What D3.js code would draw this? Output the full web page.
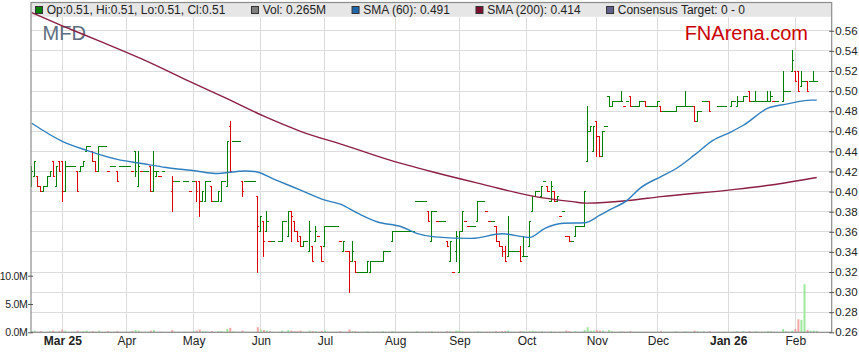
<!DOCTYPE html>
<html>
<head>
<meta charset="utf-8">
<script src="https://cdn.jsdelivr.net/npm/d3@7"></script>
<style>
  body { margin: 0; background: #fff; }
  text { font-family: "Liberation Sans", Arial, sans-serif; }
</style>
</head>
<body>
<div id="chart"></div>
<script>
// one slot per weekday, starting here; null = exchange holiday
const startDate = "2025-02-17";

// [open, high, low, close] in $
const ohlc = [
  // 0-9
  [.405,.425,.405,.42],[.415,.43,.415,.43],[.415,.415,.405,.405],[.405,.405,.40,.40],[.40,.405,.40,.405],
  [.405,.415,.405,.415],[.415,.42,.415,.42],[.43,.43,.415,.415],[.405,.425,.405,.425],[.43,.43,.42,.42],
  // 10-19
  [.43,.43,.39,.40],[.40,.43,.40,.425],[.425,.425,.425,.425],[.425,.425,.425,.425],[.425,.425,.425,.425],
  [.42,.42,.40,.40],[.42,.425,.42,.425],[.425,.43,.425,.43],[.44,.445,.44,.445],[.445,.445,.445,.445],
  // 20-29
  [.44,.44,.43,.43],[.43,.43,.42,.42],[.42,.445,.42,.445],[.445,.445,.445,.445],[.445,.445,.445,.445],
  [.42,.42,.42,.42],[.425,.425,.425,.425],[.425,.425,.425,.425],[.42,.42,.41,.41],[.425,.425,.425,.425],
  // 30-39
  [.425,.425,.425,.425],[.425,.425,.425,.425],[.425,.425,.425,.425],[.42,.42,.42,.42],[.44,.44,.415,.42],
  [.405,.44,.405,.425],[.42,.42,.42,.42],[.42,.42,.42,.42],[.42,.42,.42,.42],[.425,.425,.40,.40],
  // 40-49
  [.40,.44,.40,.42],[.415,.42,.415,.42],[.415,.415,.415,.415],[.42,.42,.42,.42],null,
  null,[.40,.415,.38,.41],[.41,.41,.41,.41],[.41,.41,.41,.41],null,
  // 50-59
  [.41,.41,.41,.41],[.41,.41,.41,.41],[.40,.40,.40,.40],[.41,.41,.41,.41],[.41,.41,.39,.40],
  [.41,.41,.375,.39],[.39,.40,.39,.40],[.39,.41,.39,.41],[.41,.41,.41,.41],[.405,.405,.39,.39],
  // 60-69
  [.39,.39,.39,.39],[.39,.40,.39,.40],[.39,.41,.39,.41],[.41,.41,.41,.41],[.405,.45,.405,.45],
  [.465,.47,.42,.42],[.45,.45,.45,.45],[.45,.45,.45,.45],[.45,.45,.45,.45],[.41,.41,.395,.40],
  // 70-79
  [.41,.41,.41,.41],[.41,.41,.41,.41],[.41,.41,.41,.41],[.41,.41,.41,.41],[.395,.395,.32,.365],
  [.36,.375,.36,.375],[.37,.37,.335,.35],[.36,.38,.36,.37],[.35,.35,.35,.35],[.35,.35,.35,.35],
  // 80-89
  null,[.35,.35,.35,.35],[.35,.37,.35,.37],[.37,.37,.37,.37],[.355,.38,.355,.38],
  [.38,.38,.35,.375],[.37,.37,.36,.36],[.36,.36,.35,.35],[.355,.355,.345,.345],[.345,.35,.345,.35],
  // 90-99
  [.35,.35,.35,.35],[.34,.37,.34,.36],[.345,.345,.33,.33],[.35,.365,.35,.36],[.355,.355,.355,.355],
  [.345,.345,.33,.33],[.345,.365,.345,.365],[.365,.365,.365,.365],[.365,.365,.365,.365],[.365,.365,.365,.365],
  // 100-109
  [.365,.365,.365,.365],[.35,.35,.35,.35],[.34,.35,.34,.35],[.34,.34,.34,.34],[.34,.34,.30,.33],
  [.33,.35,.33,.34],[.33,.33,.32,.32],[.32,.32,.32,.32],[.32,.32,.32,.32],[.32,.32,.32,.32],
  // 110-119
  [.32,.33,.32,.33],[.32,.33,.32,.33],[.33,.33,.33,.33],[.33,.33,.33,.33],[.33,.33,.33,.33],
  [.33,.34,.33,.34],[.34,.34,.34,.34],[.34,.34,.34,.34],[.35,.36,.35,.36],[.36,.36,.36,.36],
  // 120-129
  [.36,.36,.36,.36],[.36,.36,.36,.36],[.36,.36,.36,.36],[.36,.36,.36,.36],[.36,.36,.36,.36],
  [.36,.36,.36,.36],[.39,.39,.39,.39],[.39,.39,.39,.39],[.39,.39,.39,.39],[.39,.39,.39,.39],
  // 130-139
  [.38,.38,.37,.37],[.35,.38,.35,.38],[.38,.38,.38,.38],[.37,.37,.37,.37],[.37,.37,.37,.37],
  [.37,.37,.37,.37],[.35,.35,.345,.345],[.33,.35,.33,.35],[.32,.32,.32,.32],[.34,.36,.33,.355],
  // 140-149
  [.32,.36,.32,.36],[.36,.38,.36,.38],[.37,.37,.37,.37],[.365,.365,.365,.365],[.365,.365,.365,.365],
  [.365,.365,.365,.365],[.37,.39,.37,.39],[.39,.39,.39,.39],[.39,.39,.39,.39],[.38,.38,.38,.38],
  // 150-159
  [.37,.37,.37,.37],[.37,.37,.37,.37],[.365,.365,.35,.35],[.35,.35,.345,.345],[.345,.345,.335,.34],
  [.34,.345,.33,.33],[.335,.375,.335,.34],[.34,.34,.34,.34],[.34,.34,.34,.34],[.34,.34,.34,.34],
  // 160-169
  [.34,.345,.33,.33],[.335,.355,.335,.335],[.335,.335,.335,.335],[.345,.37,.345,.37],[.38,.395,.38,.395],
  [.395,.40,.395,.40],[.40,.40,.40,.40],[.395,.405,.395,.405],[.41,.41,.41,.41],[.405,.405,.40,.40],
  // 170-179
  [.39,.41,.39,.405],[.40,.40,.39,.39],[.39,.395,.39,.395],[.375,.375,.375,.375],[.38,.38,.38,.38],
  [.355,.355,.355,.355],[.355,.355,.35,.35],[.35,.35,.35,.35],[.355,.365,.355,.365],[.365,.365,.365,.365],
  // 180-189
  [.365,.365,.365,.365],[.365,.40,.365,.40],[.43,.485,.43,.46],[.46,.465,.46,.465],[.44,.465,.44,.465],
  [.47,.47,.435,.455],[.455,.455,.435,.435],[.435,.46,.435,.46],[.465,.465,.465,.465],[.495,.495,.485,.485],
  // 190-199
  [.485,.49,.485,.49],[.49,.49,.49,.49],[.49,.49,.49,.49],[.49,.50,.49,.49],[.485,.485,.485,.485],
  [.49,.49,.49,.49],[.495,.495,.485,.485],[.485,.485,.485,.485],[.485,.485,.485,.485],[.485,.49,.485,.49],
  // 200-209
  [.49,.49,.49,.49],[.49,.49,.485,.485],[.485,.485,.485,.485],[.485,.485,.485,.485],[.485,.485,.485,.485],
  [.485,.49,.485,.49],[.485,.485,.48,.48],[.48,.48,.48,.48],[.48,.48,.48,.48],[.48,.48,.48,.48],
  // 210-219
  [.48,.48,.48,.48],[.48,.485,.48,.485],[.485,.485,.485,.485],[.485,.485,.485,.485],[.485,.50,.485,.485],
  [.485,.485,.485,.485],[.485,.485,.485,.485],[.485,.485,.47,.47],[.47,.48,.47,.48],[.48,.48,.48,.48],
  // 220-229
  [.49,.49,.49,.49],[.49,.49,.49,.49],[.49,.49,.48,.48],null,null,
  [.485,.485,.485,.485],[.485,.485,.485,.485],[.485,.485,.485,.485],null,[.485,.49,.485,.49],
  // 230-239
  [.49,.49,.49,.49],[.485,.495,.485,.49],[.49,.49,.49,.49],[.49,.495,.49,.495],[.495,.495,.495,.495],
  [.50,.50,.49,.49],[.49,.49,.49,.49],[.49,.50,.49,.49],[.49,.49,.49,.49],[.49,.49,.49,.49],
  // 240-249
  [.49,.49,.49,.49],[.49,.50,.49,.49],[.49,.50,.49,.495],[.49,.49,.49,.49],[.49,.49,.49,.49],
  null,[.49,.52,.49,.50],[.50,.50,.50,.50],[.50,.50,.50,.50],[.52,.54,.52,.53],
  // 250-257
  [.52,.52,.51,.51],[.52,.52,.50,.50],[.505,.52,.505,.51],[.51,.51,.51,.51],[.51,.51,.50,.50],
  [.51,.51,.51,.51],[.51,.52,.51,.51],[.51,.51,.51,.51]
];

// volume, millions of shares
const volumes = [
  .2,.3,.1,.2,.1,.1,.2,.3,.1,.2,
  .5,.3,.1,.1,.1,.3,.1,.2,.3,.1,
  .2,.1,.3,.1,.1,.2,.1,.1,.2,.1,
  .1,.1,.1,.2,.4,.3,.1,.1,.1,.3,
  .4,.1,.1,.1,null,null,.4,.1,.1,null,
  .1,.1,.1,.2,.3,.5,.2,.2,.1,.2,
  .1,.2,.2,.1,.6,.8,.2,.1,.1,.3,
  .1,.1,.1,.1,.9,.5,.4,.3,.2,.1,
  null,.1,.3,.1,.4,.3,.2,.2,.3,.1,
  .1,.3,.2,.2,.1,.2,.3,.1,.1,.1,
  .1,.2,.1,.1,.5,.2,.2,.1,.1,.1,
  .2,.1,.1,.1,.1,.2,.1,.1,.2,.1,
  .1,.1,.1,.1,.1,.1,.2,.1,.1,.1,
  .1,.2,.1,.1,.1,.1,.2,.2,.1,.3,
  .3,.2,.1,.1,.1,.1,.2,.1,.1,.1,
  .1,.1,.2,.1,.2,.2,.3,.1,.1,.1,
  .2,.2,.1,.2,.3,.2,.1,.2,.1,.1,
  .2,.1,.1,.1,.1,.3,.2,.1,.2,.1,
  .1,.4,.9,.3,.3,.4,.3,.3,.1,.4,
  .2,.1,.1,.2,.1,.1,.2,.1,.1,.1,
  .1,.1,.1,.1,.1,.1,.2,.1,.1,.1,
  .1,.2,.1,.1,.2,.1,.1,.3,.2,.1,
  .2,.1,.2,null,null,.1,.1,.1,null,.1,
  .1,.2,.1,.2,.1,.2,.1,.2,.1,.1,
  .1,.2,.2,.1,.1,null,.6,.2,.1,.3,
  .6,2.3,2.2,8.5,.4,.3,.3,.265
];

// moving averages: [slot, value]
const sma60 = [
  [0,.468],[10,.450],[18,.441],[28,.432],[36,.428],[44,.424],[54,.4205],[60,.418],[70,.4205],[73,.420],
  [80,.4115],[88,.4015],[96,.3915],[101,.3875],[107,.378],[113,.370],[121,.365],[126,.3585],[132,.355],
  [144,.3535],[154,.358],[163,.3545],[168,.3635],[174,.3685],[181,.369],[186,.3765],[189,.3815],[195,.3915],
  [199,.403],[206,.415],[211,.423],[217,.4365],[223,.451],[229,.4595],[233,.466],[241,.483],[247,.487],
  [255,.491],[257,.491]
];
const sma200 = [
  [0,.578],[10,.565],[22,.550],[36,.532],[50,.512],[65,.491],[76,.475],[88,.460],[103,.4455],[117,.4315],
  [132,.419],[148,.407],[164,.3955],[177,.390],[182,.3885],[195,.391],[206,.395],[228,.4015],[242,.4065],
  [257,.414]
];

const monthTicks = ["2025-03-03","2025-04-01","2025-05-01","2025-06-02","2025-07-01","2025-08-01",
  "2025-09-01","2025-10-01","2025-11-03","2025-12-01","2026-01-01","2026-02-02"];
const monthLabels = ["Mar 25","Apr","May","Jun","Jul","Aug","Sep","Oct","Nov","Dec","Jan 26","Feb"];
const boldLabels = ["Mar 25","Jan 26"];
const priceTicks = [0.26,0.28,0.30,0.32,0.34,0.36,0.38,0.40,0.42,0.44,0.46,0.48,0.50,0.52,0.54,0.56];
const volTicks = [0, 5, 10];

const ticker = "MFD";
const consensus = "0 - 0";

// colours
const upColor = "#008000", downColor = "#dd0000";
const upVol = "#9ee89e", downVol = "#f2a5a5";
const sma60Color = "#2f7fc0", sma200Color = "#8c1f42";

// ---------------------------------------------------------------
const W = 859, H = 363;
const plot = { left: 31, right: 831.7, top: 2.5, bottom: 332.3 };

// weekday slots -> date strings
const fmt = d3.utcFormat("%Y-%m-%d");
const slots = [];
for (let d = new Date(startDate + "T00:00:00Z"); slots.length < 270; d.setUTCDate(d.getUTCDate() + 1)) {
  const wd = d.getUTCDay();
  if (wd > 0 && wd < 6) slots.push(fmt(d));
}

const x = d3.scaleLinear().domain([-0.25, 261.9]).range([plot.left, plot.right]);
const y = d3.scaleLinear().domain([0.26, 0.56]).range([332.3, 30.8]);
const yVol = d3.scaleLinear().domain([0, 10]).range([332.3, 275.7]);

// bars, coloured by close against previous close
let prevClose = null;
const bars = [];
ohlc.forEach((b, i) => {
  if (!b) return;
  const [o, h, l, c] = b;
  const up = prevClose === null ? c >= o : c >= prevClose;
  bars.push({ i, date: slots[i], o, h, l, c, vol: volumes[i], up });
  prevClose = c;
});
const last = bars[bars.length - 1];

const svg = d3.select("#chart").append("svg")
  .attr("width", W).attr("height", H).style("display", "block");

svg.append("rect").attr("width", W).attr("height", H).attr("fill", "#fff");

// header band
svg.append("rect")
  .attr("x", plot.left).attr("y", plot.top)
  .attr("width", plot.right - plot.left).attr("height", 14.3)
  .attr("fill", "#e6e6e6");

// grid
const grid = svg.append("g").attr("stroke", "#dcdcdc").attr("shape-rendering", "crispEdges");
grid.selectAll("line.h").data(priceTicks).join("line").attr("class", "h")
  .attr("x1", plot.left).attr("x2", plot.right)
  .attr("y1", d => y(d)).attr("y2", d => y(d));
const monthSlots = monthTicks.map(d => slots.indexOf(d));
grid.selectAll("line.v").data(monthSlots).join("line").attr("class", "v")
  .attr("x1", d => x(d)).attr("x2", d => x(d))
  .attr("y1", 17).attr("y2", plot.bottom);

// watermark texts
svg.append("text").attr("x", 42.5).attr("y", 40).attr("font-size", 20)
  .attr("fill", "#5d6d80").text(ticker);
svg.append("text").attr("x", 808).attr("y", 40).attr("font-size", 20)
  .attr("text-anchor", "end").attr("fill", "#cc0000").text("FNArena.com");

// clip
svg.append("defs").append("clipPath").attr("id", "plot-area")
  .append("rect").attr("x", plot.left).attr("y", plot.top)
  .attr("width", plot.right - plot.left).attr("height", plot.bottom - plot.top);
const area = svg.append("g").attr("clip-path", "url(#plot-area)");

// volume
area.append("g").selectAll("rect")
  .data(bars.filter(d => d.vol > 0))
  .join("rect")
  .attr("x", d => x(d.i) - 1).attr("width", 2)
  .attr("y", d => yVol(d.vol)).attr("height", d => yVol(0) - yVol(d.vol))
  .attr("fill", d => d.up ? upVol : downVol);

// HLOC bars
const t = 1.6;
area.append("g").attr("stroke-width", 1).attr("fill", "none").attr("shape-rendering", "crispEdges")
  .selectAll("path")
  .data(bars)
  .join("path")
  .attr("stroke", d => d.up ? upColor : downColor)
  .attr("d", d => {
    const cx = x(d.i);
    return `M${cx},${y(d.h) - 0.5}V${y(d.l) + 0.5}M${cx - t},${y(d.o)}H${cx}M${cx},${y(d.c)}H${cx + t}`;
  });

// moving averages
const line = d3.line().x(d => x(d[0])).y(d => y(d[1])).curve(d3.curveMonotoneX);
area.append("path").datum(sma200).attr("d", line)
  .attr("fill", "none").attr("stroke", sma200Color).attr("stroke-width", 1.4);
area.append("path").datum(sma60).attr("d", line)
  .attr("fill", "none").attr("stroke", sma60Color).attr("stroke-width", 1.4);

// frame
svg.append("rect")
  .attr("x", plot.left).attr("y", plot.top)
  .attr("width", plot.right - plot.left).attr("height", plot.bottom - plot.top)
  .attr("fill", "none").attr("stroke", "#8c8c8c").attr("stroke-width", 1.2);

// axes
const priceAxis = svg.append("g")
  .attr("transform", `translate(${plot.right - 2.5},0)`)
  .call(d3.axisRight(y).tickValues(priceTicks).tickFormat(d3.format(".2f")).tickSize(5).tickPadding(1));
const volAxis = svg.append("g")
  .attr("transform", `translate(${plot.left + 2},0)`)
  .call(d3.axisLeft(yVol).tickValues(volTicks).tickFormat(d => d.toFixed(1) + "M").tickSize(5).tickPadding(0.5));
const timeAxis = svg.append("g")
  .attr("transform", `translate(0,${plot.bottom})`)
  .call(d3.axisBottom(x).tickValues(monthSlots).tickFormat((d, i) => monthLabels[i]).tickSize(0).tickPadding(4.5));

[priceAxis, volAxis, timeAxis].forEach(g => {
  g.select(".domain").remove();
  g.selectAll(".tick line").attr("stroke", "#555");
  g.selectAll("text").attr("font-size", 12).attr("fill", "#222")
    .attr("font-family", '"Liberation Sans", Arial, sans-serif');
});
priceAxis.selectAll("text").attr("font-size", 11.5);
volAxis.selectAll("text").attr("font-size", 10.5).attr("letter-spacing", -0.3);
timeAxis.selectAll("text").attr("font-weight", d => boldLabels.includes(monthLabels[monthSlots.indexOf(d)]) ? "bold" : null);

// legend
const f2 = d3.format(".2f"), f3 = d3.format(".3f");
const legendItems = [
  { color: upColor, label: `Op:${f2(last.o)}, Hi:${f2(last.h)}, Lo:${f2(last.l)}, Cl:${f2(last.c)}` },
  { color: "#808080", label: `Vol: ${f3(last.vol)}M` },
  { color: "#1f67a8", label: `SMA (60): ${f3(sma60[sma60.length - 1][1])}` },
  { color: "#7a1030", label: `SMA (200): ${f3(sma200[sma200.length - 1][1])}` },
  { color: "#60608c", label: `Consensus Target: ${consensus}` }
];
const legend = svg.append("g");
let lx = 35;
legendItems.forEach(item => {
  legend.append("rect").attr("x", lx + 0.5).attr("y", 6.5).attr("width", 7).attr("height", 7)
    .attr("fill", item.color).attr("stroke", "#333").attr("stroke-width", 1);
  const txt = legend.append("text").attr("x", lx + 11.7).attr("y", 14.3)
    .attr("font-size", 12).attr("fill", "#222").text(item.label);
  lx += 11.7 + txt.node().getComputedTextLength() + 25.5;
});
</script>
</body>
</html>
